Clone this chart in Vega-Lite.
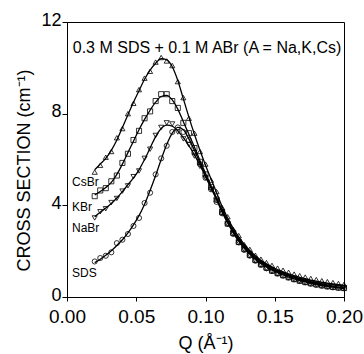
{
"$schema": "https://vega.github.io/schema/vega-lite/v6.json",
"width": 277, "height": 275,
"autosize": "none",
"padding": {"left": 67, "top": 22, "right": 20, "bottom": 57},
"config": {"view": {"stroke": "black", "strokeWidth": 1}, "font": "Liberation Sans", "background": "white"},
"datasets": {
"pts": [
{"s":"CsBr","q":0.020,"y":5.45,"f":5.55},{"s":"CsBr","q":0.024,"y":5.75,"f":5.8},{"s":"CsBr","q":0.028,"y":6.1,"f":6.05},{"s":"CsBr","q":0.032,"y":6.35,"f":6.4},{"s":"CsBr","q":0.036,"y":6.95,"f":6.85},{"s":"CsBr","q":0.040,"y":7.35,"f":7.4},{"s":"CsBr","q":0.044,"y":8.0,"f":7.95},{"s":"CsBr","q":0.048,"y":8.45,"f":8.5},{"s":"CsBr","q":0.052,"y":9.05,"f":9.0},{"s":"CsBr","q":0.056,"y":9.55,"f":9.5},
{"s":"CsBr","q":0.060,"y":9.85,"f":9.9},{"s":"CsBr","q":0.064,"y":10.25,"f":10.2},{"s":"CsBr","q":0.068,"y":10.45,"f":10.4},{"s":"CsBr","q":0.072,"y":10.3,"f":10.35},{"s":"CsBr","q":0.076,"y":10.1,"f":10.05},{"s":"CsBr","q":0.080,"y":9.4,"f":9.45},{"s":"CsBr","q":0.084,"y":8.7,"f":8.65},{"s":"CsBr","q":0.088,"y":7.8,"f":7.85},{"s":"CsBr","q":0.092,"y":7.15,"f":7.1},{"s":"CsBr","q":0.096,"y":6.35,"f":6.4},
{"s":"CsBr","q":0.100,"y":5.8,"f":5.75},{"s":"CsBr","q":0.104,"y":5.1,"f":5.15},{"s":"CsBr","q":0.108,"y":4.6,"f":4.55},{"s":"CsBr","q":0.112,"y":3.9,"f":3.95},{"s":"CsBr","q":0.116,"y":3.5,"f":3.45},{"s":"CsBr","q":0.120,"y":2.95,"f":3.0},{"s":"CsBr","q":0.124,"y":2.68,"f":2.62},{"s":"CsBr","q":0.128,"y":2.28,"f":2.3},{"s":"CsBr","q":0.132,"y":2.08,"f":2.03},{"s":"CsBr","q":0.136,"y":1.82,"f":1.8},
{"s":"CsBr","q":0.140,"y":1.65,"f":1.6},{"s":"CsBr","q":0.144,"y":1.5,"f":1.45},{"s":"CsBr","q":0.148,"y":1.38,"f":1.32},{"s":"CsBr","q":0.152,"y":1.26,"f":1.2},{"s":"CsBr","q":0.156,"y":1.17,"f":1.1},{"s":"CsBr","q":0.160,"y":1.08,"f":1.01},{"s":"CsBr","q":0.164,"y":1.0,"f":0.93},{"s":"CsBr","q":0.168,"y":0.93,"f":0.86},{"s":"CsBr","q":0.172,"y":0.87,"f":0.8},{"s":"CsBr","q":0.176,"y":0.81,"f":0.74},
{"s":"CsBr","q":0.180,"y":0.76,"f":0.69},{"s":"CsBr","q":0.184,"y":0.71,"f":0.65},{"s":"CsBr","q":0.188,"y":0.67,"f":0.61},{"s":"CsBr","q":0.192,"y":0.63,"f":0.57},{"s":"CsBr","q":0.196,"y":0.59,"f":0.54},{"s":"CsBr","q":0.200,"y":0.55,"f":0.51},
{"s":"KBr","q":0.020,"y":4.4,"f":4.45},{"s":"KBr","q":0.024,"y":4.65,"f":4.6},{"s":"KBr","q":0.028,"y":4.75,"f":4.78},{"s":"KBr","q":0.032,"y":5.05,"f":5.0},{"s":"KBr","q":0.036,"y":5.3,"f":5.35},{"s":"KBr","q":0.040,"y":5.85,"f":5.8},{"s":"KBr","q":0.044,"y":6.25,"f":6.3},{"s":"KBr","q":0.048,"y":6.85,"f":6.8},{"s":"KBr","q":0.052,"y":7.25,"f":7.3},{"s":"KBr","q":0.056,"y":7.8,"f":7.75},
{"s":"KBr","q":0.060,"y":8.1,"f":8.15},{"s":"KBr","q":0.064,"y":8.55,"f":8.5},{"s":"KBr","q":0.068,"y":8.85,"f":8.75},{"s":"KBr","q":0.072,"y":8.85,"f":8.8},{"s":"KBr","q":0.076,"y":8.55,"f":8.6},{"s":"KBr","q":0.080,"y":8.25,"f":8.2},{"s":"KBr","q":0.084,"y":7.6,"f":7.65},{"s":"KBr","q":0.088,"y":7.15,"f":7.1},{"s":"KBr","q":0.092,"y":6.5,"f":6.55},{"s":"KBr","q":0.096,"y":5.9,"f":5.95},
{"s":"KBr","q":0.100,"y":5.35,"f":5.4},{"s":"KBr","q":0.104,"y":4.8,"f":4.85},{"s":"KBr","q":0.108,"y":4.25,"f":4.3},{"s":"KBr","q":0.112,"y":3.7,"f":3.75},{"s":"KBr","q":0.116,"y":3.2,"f":3.28},{"s":"KBr","q":0.120,"y":2.8,"f":2.85},{"s":"KBr","q":0.124,"y":2.4,"f":2.48},{"s":"KBr","q":0.128,"y":2.1,"f":2.17},{"s":"KBr","q":0.132,"y":1.84,"f":1.9},{"s":"KBr","q":0.136,"y":1.62,"f":1.68},
{"s":"KBr","q":0.140,"y":1.43,"f":1.49},{"s":"KBr","q":0.144,"y":1.28,"f":1.34},{"s":"KBr","q":0.148,"y":1.15,"f":1.21},{"s":"KBr","q":0.152,"y":1.04,"f":1.1},{"s":"KBr","q":0.156,"y":0.95,"f":1.0},{"s":"KBr","q":0.160,"y":0.86,"f":0.91},{"s":"KBr","q":0.164,"y":0.78,"f":0.83},{"s":"KBr","q":0.168,"y":0.71,"f":0.76},{"s":"KBr","q":0.172,"y":0.65,"f":0.69},{"s":"KBr","q":0.176,"y":0.6,"f":0.63},
{"s":"KBr","q":0.180,"y":0.55,"f":0.58},{"s":"KBr","q":0.184,"y":0.51,"f":0.54},{"s":"KBr","q":0.188,"y":0.47,"f":0.5},{"s":"KBr","q":0.192,"y":0.44,"f":0.46},{"s":"KBr","q":0.196,"y":0.41,"f":0.43},{"s":"KBr","q":0.200,"y":0.39,"f":0.4},
{"s":"NaBr","q":0.020,"y":3.45,"f":3.5},{"s":"NaBr","q":0.024,"y":3.72,"f":3.7},{"s":"NaBr","q":0.028,"y":3.85,"f":3.88},{"s":"NaBr","q":0.032,"y":4.12,"f":4.08},{"s":"NaBr","q":0.036,"y":4.3,"f":4.32},{"s":"NaBr","q":0.040,"y":4.62,"f":4.6},{"s":"NaBr","q":0.044,"y":4.85,"f":4.9},{"s":"NaBr","q":0.048,"y":5.25,"f":5.2},{"s":"NaBr","q":0.052,"y":5.5,"f":5.55},{"s":"NaBr","q":0.056,"y":6.05,"f":6.0},
{"s":"NaBr","q":0.060,"y":6.45,"f":6.5},{"s":"NaBr","q":0.064,"y":7.05,"f":7.0},{"s":"NaBr","q":0.068,"y":7.4,"f":7.35},{"s":"NaBr","q":0.072,"y":7.6,"f":7.5},{"s":"NaBr","q":0.076,"y":7.55,"f":7.45},{"s":"NaBr","q":0.080,"y":7.2,"f":7.25},{"s":"NaBr","q":0.084,"y":6.9,"f":6.95},{"s":"NaBr","q":0.088,"y":6.65,"f":6.6},{"s":"NaBr","q":0.092,"y":6.15,"f":6.2},{"s":"NaBr","q":0.096,"y":5.7,"f":5.75},
{"s":"NaBr","q":0.100,"y":5.2,"f":5.25},{"s":"NaBr","q":0.104,"y":4.7,"f":4.75},{"s":"NaBr","q":0.108,"y":4.2,"f":4.25},{"s":"NaBr","q":0.112,"y":3.65,"f":3.7},{"s":"NaBr","q":0.116,"y":3.18,"f":3.23},{"s":"NaBr","q":0.120,"y":2.75,"f":2.8},{"s":"NaBr","q":0.124,"y":2.38,"f":2.43},{"s":"NaBr","q":0.128,"y":2.07,"f":2.12},{"s":"NaBr","q":0.132,"y":1.8,"f":1.86},{"s":"NaBr","q":0.136,"y":1.58,"f":1.64},
{"s":"NaBr","q":0.140,"y":1.4,"f":1.45},{"s":"NaBr","q":0.144,"y":1.25,"f":1.3},{"s":"NaBr","q":0.148,"y":1.13,"f":1.17},{"s":"NaBr","q":0.152,"y":1.02,"f":1.06},{"s":"NaBr","q":0.156,"y":0.93,"f":0.96},{"s":"NaBr","q":0.160,"y":0.85,"f":0.87},{"s":"NaBr","q":0.164,"y":0.77,"f":0.79},{"s":"NaBr","q":0.168,"y":0.7,"f":0.72},{"s":"NaBr","q":0.172,"y":0.64,"f":0.66},{"s":"NaBr","q":0.176,"y":0.59,"f":0.6},
{"s":"NaBr","q":0.180,"y":0.54,"f":0.55},{"s":"NaBr","q":0.184,"y":0.5,"f":0.5},{"s":"NaBr","q":0.188,"y":0.46,"f":0.46},{"s":"NaBr","q":0.192,"y":0.43,"f":0.43},{"s":"NaBr","q":0.196,"y":0.41,"f":0.4},{"s":"NaBr","q":0.200,"y":0.39,"f":0.37},
{"s":"SDS","q":0.020,"y":1.55,"f":1.5},{"s":"SDS","q":0.024,"y":1.7,"f":1.65},{"s":"SDS","q":0.028,"y":1.8,"f":1.82},{"s":"SDS","q":0.032,"y":1.95,"f":2.02},{"s":"SDS","q":0.036,"y":2.35,"f":2.25},{"s":"SDS","q":0.040,"y":2.5,"f":2.5},{"s":"SDS","q":0.044,"y":2.75,"f":2.8},{"s":"SDS","q":0.048,"y":3.1,"f":3.15},{"s":"SDS","q":0.052,"y":3.45,"f":3.55},{"s":"SDS","q":0.056,"y":4.1,"f":4.05},
{"s":"SDS","q":0.060,"y":4.55,"f":4.65},{"s":"SDS","q":0.064,"y":5.35,"f":5.3},{"s":"SDS","q":0.068,"y":6.05,"f":6.0},{"s":"SDS","q":0.072,"y":6.6,"f":6.65},{"s":"SDS","q":0.076,"y":7.2,"f":7.15},{"s":"SDS","q":0.080,"y":7.4,"f":7.4},{"s":"SDS","q":0.084,"y":7.2,"f":7.3},{"s":"SDS","q":0.088,"y":6.85,"f":6.9},{"s":"SDS","q":0.092,"y":6.3,"f":6.4},{"s":"SDS","q":0.096,"y":5.8,"f":5.85},
{"s":"SDS","q":0.100,"y":5.2,"f":5.3},{"s":"SDS","q":0.104,"y":4.7,"f":4.8},{"s":"SDS","q":0.108,"y":4.15,"f":4.3},{"s":"SDS","q":0.112,"y":3.65,"f":3.8},{"s":"SDS","q":0.116,"y":3.2,"f":3.35},{"s":"SDS","q":0.120,"y":2.75,"f":2.92},{"s":"SDS","q":0.124,"y":2.38,"f":2.55},{"s":"SDS","q":0.128,"y":2.05,"f":2.24},{"s":"SDS","q":0.132,"y":1.8,"f":1.98},{"s":"SDS","q":0.136,"y":1.58,"f":1.75},
{"s":"SDS","q":0.140,"y":1.4,"f":1.56},{"s":"SDS","q":0.144,"y":1.25,"f":1.4},{"s":"SDS","q":0.148,"y":1.13,"f":1.27},{"s":"SDS","q":0.152,"y":1.02,"f":1.15},{"s":"SDS","q":0.156,"y":0.93,"f":1.05},{"s":"SDS","q":0.160,"y":0.85,"f":0.95},{"s":"SDS","q":0.164,"y":0.77,"f":0.87},{"s":"SDS","q":0.168,"y":0.7,"f":0.79},{"s":"SDS","q":0.172,"y":0.64,"f":0.72},{"s":"SDS","q":0.176,"y":0.58,"f":0.66},
{"s":"SDS","q":0.180,"y":0.53,"f":0.6},{"s":"SDS","q":0.184,"y":0.49,"f":0.55},{"s":"SDS","q":0.188,"y":0.45,"f":0.5},{"s":"SDS","q":0.192,"y":0.42,"f":0.46},{"s":"SDS","q":0.196,"y":0.4,"f":0.43},{"s":"SDS","q":0.200,"y":0.38,"f":0.4}
],
"labels": [
{"name":"CsBr","q":0.0036,"y":5.03},
{"name":"KBr","q":0.0036,"y":3.93},
{"name":"NaBr","q":0.0036,"y":3.0},
{"name":"SDS","q":0.0036,"y":1.03}
],
"note": [
{"text":"0.3 M SDS + 0.1 M ABr (A = Na,K,Cs)"}
]
},
"layer": [
{
"data": {"name": "pts"},
"mark": {"type": "line", "color": "black", "strokeWidth": 1.3, "interpolate": "monotone"},
"encoding": {
"x": {"field": "q", "type": "quantitative", "scale": {"domain": [0, 0.2], "nice": false}, "axis": {"values": [0, 0.05, 0.1, 0.15, 0.2], "format": ".2f", "title": "Q (Å⁻¹)", "grid": false, "labelFontSize": 19, "titleFontSize": 18, "titleFontWeight": "normal", "labelColor": "black", "titleColor": "black", "domainColor": "black", "tickColor": "black", "tickSize": 4, "labelPadding": 6, "titlePadding": 8, "labelFlush": false}},
"y": {"field": "f", "type": "quantitative", "scale": {"domain": [0, 12], "nice": false}, "axis": {"values": [0, 4, 8, 12], "title": "CROSS SECTION (cm⁻¹)", "grid": false, "labelFontSize": 18, "labelOffset": -2, "titleFontSize": 18, "titleFontWeight": "normal", "labelColor": "black", "titleColor": "black", "domainColor": "black", "tickColor": "black", "tickSize": 5, "labelPadding": 1, "titlePadding": 7, "titleY": 148}},
"detail": {"field": "s"}
}
},
{
"data": {"name": "pts"},
"mark": {"type": "point", "filled": false, "color": "black", "strokeWidth": 0.8, "size": 26, "opacity": 1},
"encoding": {
"x": {"field": "q", "type": "quantitative"},
"y": {"field": "y", "type": "quantitative"},
"shape": {"field": "s", "type": "nominal", "scale": {"domain": ["SDS", "NaBr", "KBr", "CsBr"], "range": ["circle", "triangle-down", "square", "triangle-up"]}, "legend": null}
}
},
{
"data": {"name": "labels"},
"mark": {"type": "text", "align": "left", "baseline": "middle", "fontSize": 12, "color": "black"},
"encoding": {
"x": {"field": "q", "type": "quantitative"},
"y": {"field": "y", "type": "quantitative"},
"text": {"field": "name"}
}
},
{
"data": {"name": "note"},
"mark": {"type": "text", "align": "center", "baseline": "middle", "fontSize": 16, "color": "black"},
"encoding": {
"x": {"datum": 0.1011},
"y": {"datum": 10.87},
"text": {"field": "text"}
}
}
]
}
